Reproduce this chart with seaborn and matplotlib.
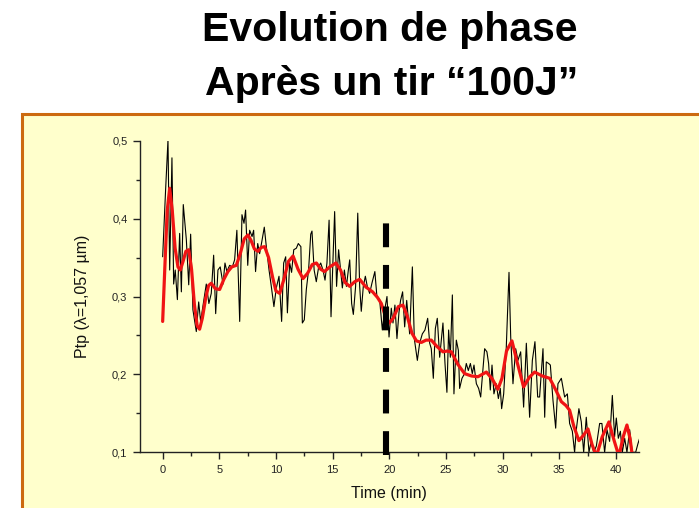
import matplotlib
matplotlib.use("Agg")
import matplotlib.pyplot as plt
from matplotlib.patches import Rectangle
from matplotlib.ticker import MultipleLocator, FixedLocator
import seaborn as sns
import pandas as pd

# ---- data ----
raw_time = [
    0.00, 0.26, 0.47, 0.62, 0.82, 0.97, 1.11, 1.30, 1.50, 1.65, 1.82, 2.09, 2.30, 2.47, 2.67,
    2.97, 3.18, 3.35, 3.55, 3.85, 4.08, 4.29, 4.50, 4.68, 4.88, 5.08, 5.33, 5.50, 5.67, 5.91,
    6.15, 6.35, 6.55, 6.80, 7.00, 7.18, 7.32, 7.51, 7.68, 7.89, 8.03, 8.20, 8.39, 8.56, 8.77,
    8.97, 9.15, 9.39, 9.59, 9.82, 10.03, 10.27, 10.50, 10.68, 10.86, 11.01, 11.21, 11.38, 11.57,
    11.80, 11.97, 12.20, 12.33, 12.50, 12.68, 12.88, 13.07, 13.18, 13.37, 13.56, 13.77, 13.95,
    14.15, 14.33, 14.50, 14.69, 14.86, 15.01, 15.18, 15.35, 15.53, 15.71, 15.86, 16.04, 16.22,
    16.39, 16.51, 16.68, 16.83, 17.03, 17.22, 17.39, 17.53, 17.71, 17.89, 18.06, 18.27, 18.47,
    18.73, 18.91, 19.15, 19.39, 19.60, 19.80, 19.98, 20.18, 20.33, 20.50, 20.68, 20.86, 21.00,
    21.18, 21.36, 21.54, 21.80, 22.04, 22.21, 22.48, 22.68, 22.92, 23.15, 23.39, 23.57, 23.71,
    23.89, 24.07, 24.24, 24.45, 24.62, 24.74, 24.92, 25.09, 25.24, 25.39, 25.57, 25.71, 25.92,
    26.10, 26.21, 26.42, 26.65, 26.80, 26.98, 27.16, 27.33, 27.48, 27.69, 27.89, 28.07, 28.22,
    28.42, 28.62, 28.77, 28.92, 29.07, 29.24, 29.45, 29.63, 29.80, 29.92, 30.10, 30.33, 30.57,
    30.72, 30.92, 31.16, 31.36, 31.60, 31.86, 32.10, 32.39, 32.63, 32.86, 33.10, 33.27, 33.57,
    33.72, 33.86, 34.07, 34.22, 34.45, 34.69, 34.89, 35.19, 35.48, 35.72, 35.92, 36.16, 36.36,
    36.51, 36.74, 36.95, 37.16, 37.39, 37.63, 37.83, 38.04, 38.28, 38.57, 38.77, 39.01, 39.22,
    39.45, 39.69, 39.89, 40.04, 40.22, 40.40, 40.57, 40.78, 40.98, 41.22, 41.45, 41.75, 41.95,
    42.10,
]
raw_ptp = [
    0.351, 0.437, 0.501, 0.334, 0.478, 0.316, 0.334, 0.296, 0.381, 0.306, 0.418, 0.373, 0.315,
    0.380, 0.283, 0.255, 0.293, 0.268, 0.287, 0.316, 0.291, 0.304, 0.353, 0.278, 0.334, 0.338,
    0.316, 0.343, 0.332, 0.340, 0.338, 0.347, 0.385, 0.268, 0.405, 0.394, 0.411, 0.340, 0.385,
    0.377, 0.385, 0.332, 0.368, 0.355, 0.372, 0.389, 0.364, 0.334, 0.313, 0.287, 0.311, 0.326,
    0.268, 0.343, 0.351, 0.279, 0.343, 0.331, 0.360, 0.362, 0.368, 0.364, 0.266, 0.270, 0.309,
    0.334, 0.380, 0.384, 0.334, 0.319, 0.338, 0.343, 0.334, 0.321, 0.343, 0.398, 0.274, 0.338,
    0.409, 0.313, 0.360, 0.334, 0.311, 0.334, 0.313, 0.334, 0.347, 0.291, 0.277, 0.313, 0.407,
    0.313, 0.281, 0.313, 0.326, 0.313, 0.304, 0.317, 0.332, 0.300, 0.296, 0.257, 0.283, 0.300,
    0.248, 0.285, 0.266, 0.289, 0.246, 0.280, 0.295, 0.306, 0.261, 0.295, 0.252, 0.338, 0.246,
    0.218, 0.240, 0.252, 0.257, 0.272, 0.240, 0.233, 0.195, 0.259, 0.272, 0.222, 0.248, 0.266,
    0.214, 0.177, 0.257, 0.222, 0.302, 0.175, 0.244, 0.231, 0.182, 0.195, 0.201, 0.214, 0.205,
    0.214, 0.201, 0.212, 0.188, 0.182, 0.171, 0.197, 0.233, 0.229, 0.214, 0.180, 0.212, 0.175,
    0.188, 0.169, 0.182, 0.156, 0.175, 0.235, 0.331, 0.248, 0.188, 0.233, 0.218, 0.229, 0.158,
    0.240, 0.145, 0.218, 0.242, 0.171, 0.171, 0.233, 0.145, 0.216, 0.214, 0.212, 0.167, 0.131,
    0.188, 0.195, 0.171, 0.175, 0.137, 0.127, 0.100, 0.129, 0.156, 0.139, 0.100, 0.145, 0.100,
    0.115, 0.100, 0.108, 0.137, 0.137, 0.100, 0.129, 0.114, 0.173, 0.120, 0.144, 0.118, 0.127,
    0.100, 0.118, 0.100, 0.129, 0.100, 0.100, 0.111, 0.118,
]
smooth_time = [
    0.00, 0.20, 0.40, 0.62, 0.85, 1.10, 1.35, 1.56, 1.80, 2.05, 2.30, 2.55, 2.80, 3.05, 3.26,
    3.50, 3.80, 4.05, 4.29, 4.65, 5.03, 5.40, 5.76, 6.10, 6.50, 6.85, 7.20, 7.53, 7.80, 8.10,
    8.42, 8.70, 9.00, 9.35, 9.70, 10.00, 10.33, 10.70, 11.10, 11.51, 11.95, 12.39, 12.80, 13.20,
    13.57, 13.95, 14.28, 14.75, 15.29, 15.70, 16.10, 16.51, 16.95, 17.39, 17.95, 18.53, 18.95,
    19.30, 19.65, 20.00, 20.35, 20.80, 21.21, 21.60, 22.00, 22.40, 22.83, 23.25, 23.71, 24.20,
    24.74, 25.10, 25.48, 26.05, 26.65, 27.25, 27.83, 28.20, 28.57, 29.10, 29.59, 29.95, 30.35,
    30.83, 31.30, 31.86, 32.35, 32.83, 33.50, 34.16, 34.70, 35.19, 35.60, 35.92, 36.30, 36.74,
    37.15, 37.54, 37.90, 38.28, 38.80, 39.39, 39.85, 40.27, 40.65, 40.98, 41.25, 41.46,
]
smooth_ptp = [
    0.268, 0.340, 0.410, 0.439, 0.410, 0.362, 0.338, 0.334, 0.345, 0.358, 0.360, 0.335, 0.290,
    0.262, 0.258, 0.272, 0.298, 0.314, 0.317, 0.310, 0.309, 0.322, 0.332, 0.338, 0.340, 0.355,
    0.374, 0.379, 0.372, 0.361, 0.358, 0.363, 0.364, 0.350, 0.325, 0.307, 0.304, 0.322, 0.345,
    0.352, 0.335, 0.323, 0.330, 0.341, 0.343, 0.335, 0.332, 0.338, 0.343, 0.334, 0.318, 0.313,
    0.319, 0.322, 0.312, 0.306, 0.299, 0.291, 0.275, 0.266, 0.272, 0.287, 0.289, 0.274, 0.253,
    0.243, 0.241, 0.244, 0.244, 0.236, 0.229, 0.230, 0.229, 0.213, 0.201, 0.198, 0.197, 0.200,
    0.203, 0.194, 0.181, 0.195, 0.230, 0.243, 0.215, 0.184, 0.196, 0.203, 0.198, 0.195, 0.180,
    0.165, 0.160, 0.154, 0.133, 0.115, 0.122, 0.130, 0.110, 0.095, 0.120, 0.139, 0.115, 0.095,
    0.120, 0.135, 0.118, 0.095,
]
shot_time = 19.7
shot_marker_top = 0.396
x_ticks = [0, 5, 10, 15, 20, 25, 30, 35, 40]
y_ticks = [0.1, 0.2, 0.3, 0.4, 0.5]
y_tick_labels = ["0,1", "0,2", "0,3", "0,4", "0,5"]
title_lines = ["Evolution de phase", "Après un tir \u201c100J\u201d"]

raw_df = pd.DataFrame({"time": raw_time, "ptp": raw_ptp})
smooth_df = pd.DataFrame({"time": smooth_time, "ptp": smooth_ptp})

sns.set_theme(style="ticks")
plt.rcParams["font.family"] = ["Liberation Sans", "DejaVu Sans"]

fig = plt.figure(figsize=(6.99, 5.08), dpi=100)
fig.patch.set_facecolor("white")

# yellow panel with orange border (drawn behind the axes)
panel = Rectangle((22 / 699, -0.05), 1.2, (508 - 113.5) / 508 + 0.05,
                  transform=fig.transFigure, facecolor="#FFFFCC",
                  edgecolor="#CC6A10", linewidth=2.2, zorder=-10)
fig.patches.append(panel)

ax = fig.add_axes([140 / 699, (508 - 452.3) / 508, 498.5 / 699, (452.3 - 140.7) / 508])
ax.set_zorder(1)
ax.set_facecolor("none")

sns.lineplot(data=raw_df, x="time", y="ptp", ax=ax, estimator=None, sort=False,
             color="black", linewidth=0.8, zorder=3)
sns.lineplot(data=smooth_df, x="time", y="ptp", ax=ax, estimator=None, sort=False,
             color="#F01414", linewidth=2.3, zorder=4)

ax.plot([shot_time, shot_time], [0.0961, shot_marker_top], color="black",
        linewidth=4.4, linestyle=(0, (3.9, 2.9)), dash_capstyle="butt",
        solid_capstyle="butt", clip_on=False, zorder=5)

ax.set_xlim(-2, 42)
ax.set_ylim(0.1, 0.5)
ax.xaxis.set_major_locator(FixedLocator(x_ticks))
ax.xaxis.set_minor_locator(MultipleLocator(2.5))
ax.yaxis.set_major_locator(FixedLocator(y_ticks))
ax.yaxis.set_minor_locator(MultipleLocator(0.05))
ax.set_yticklabels(y_tick_labels)
ax.tick_params(axis="both", which="major", direction="out", length=5, width=1,
               labelsize=8, colors="#222222", pad=4)
ax.tick_params(axis="both", which="minor", direction="out", length=3, width=1,
               colors="#222222")
for s in ["top", "right"]:
    ax.spines[s].set_visible(False)
for s in ["left", "bottom"]:
    ax.spines[s].set_color("#222222")
    ax.spines[s].set_linewidth(1.0)

ax.set_xlabel("Time (min)", fontsize=11.5, color="#111111", labelpad=8)
ax.set_ylabel("Ptp (\u03bb=1,057 \u00b5m)", fontsize=11.5, color="#111111", labelpad=16)

fig.text(390 / 699, 1 - 41 / 508, title_lines[0], ha="center", va="baseline",
         fontsize=29.5, fontweight="bold", color="black")
fig.text(392 / 699, 1 - 95 / 508, title_lines[1], ha="center", va="baseline",
         fontsize=29.5, fontweight="bold", color="black")

fig.savefig("out.png", dpi=100)
